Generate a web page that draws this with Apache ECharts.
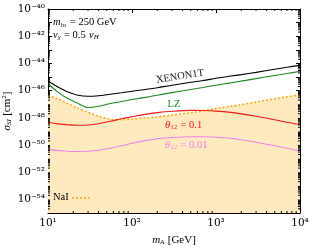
<!DOCTYPE html>
<html><head><meta charset="utf-8">
<script src="https://cdn.jsdelivr.net/npm/echarts@6/dist/echarts.min.js"></script>
<style>html,body{margin:0;padding:0;background:#fff}#c{width:316px;height:245px}</style>
</head><body><div id="c"></div>
<script>
const masses = [10,13,17,22,30,40,55,75,100,150,200,300,500,700,1000,1500,2000,3000,5000,7000,10000];
const xenon1t = [5.1e-46,1.9e-46,8.1e-47,4.8e-47,3.8e-47,4.2e-47,5.4e-47,6.9e-47,8.9e-47,1.26e-46,1.6e-46,2.5e-46,4.1e-46,5.5e-46,8.0e-46,1.17e-45,1.5e-45,2.2e-45,3.7e-45,5.2e-45,7.2e-45];
const lz = [3.2e-46,8.1e-47,2.7e-47,1.26e-47,5.7e-48,7.1e-48,1.12e-47,1.58e-47,2.2e-47,3.3e-47,4.6e-47,7.1e-47,1.2e-46,1.7e-46,2.5e-46,3.7e-46,5.0e-46,7.6e-46,1.29e-45,1.8e-45,2.6e-45];
const nai = [4.5e-47,2.5e-47,1.17e-47,5.5e-48,2.5e-48,1.29e-48,7.8e-49,7.1e-49,8.1e-49,1.0e-48,1.18e-48,1.58e-48,2.4e-48,3.2e-48,4.8e-48,7.1e-48,9.3e-48,1.45e-47,2.5e-47,3.5e-47,4.9e-47];
const theta01 = [4.7e-49,3.6e-49,3.1e-49,2.8e-49,2.95e-49,3.7e-49,5.5e-49,8.5e-49,1.18e-48,1.86e-48,2.4e-48,3.0e-48,3.5e-48,3.4e-48,3.1e-48,2.5e-48,1.95e-48,1.29e-48,7.1e-49,4.7e-49,3.1e-49];
const theta001 = [4.6e-51,3.9e-51,3.5e-51,3.3e-51,3.5e-51,4.1e-51,5.8e-51,8.7e-51,1.33e-50,2.2e-50,2.9e-50,3.6e-50,4.0e-50,4.0e-50,3.7e-50,3.1e-50,2.4e-50,1.58e-50,8.7e-51,5.8e-51,3.5e-51];
const xMin = 10, xMax = 1e4;
const yExpMin = -55, yExpMax = -40;   // y axis spans 1e-55 .. 1e-40 cm^2 (drawn on log10 scale)

const FF = 'DejaVu Serif';
const SF = 'Liberation Serif';
const pair = (a) => masses.map((m, i) => [m, Math.log10(a[i])]);

const xMinor = [], yMinor = [];
for (let e = 1; e < 4; e++) for (let k = 2; k <= 9; k++) xMinor.push(k * Math.pow(10, e));
for (let e = yExpMin; e < yExpMax; e++) for (let k = 2; k <= 9; k++) yMinor.push(e + Math.log10(k));

const SUP = {'-': '\u207b', '0': '\u2070', '1': '\u00b9', '2': '\u00b2', '3': '\u00b3', '4': '\u2074',
             '5': '\u2075', '6': '\u2076', '7': '\u2077', '8': '\u2078', '9': '\u2079'};
const supE = e => '10' + String(e).split('').map(c => SUP[c]).join('');
const xFmt = v => supE(Math.round(Math.log10(v)));
const yFmt = v => { const e = Math.round(v); return (e % 2 === 0) ? supE(e) : ''; };
const LAB = {fontFamily: FF, fontSize: 10.5, color: '#000'};

const chart = echarts.init(document.getElementById('c'), null, {renderer: 'canvas'});
const lineS = (name, data, color, w, extra) => Object.assign({
  name, type: 'line', data: pair(data), symbol: 'none', smooth: 0.3,
  lineStyle: {color, width: w}, itemStyle: {color}, z: 3, silent: true
}, extra || {});

chart.setOption({
  animation: false,
  grid: {left: 48, right: 16, top: 9, bottom: 32, containLabel: false, outerBoundsMode: 'none'},
  xAxis: [
    {type: 'log', min: xMin, max: xMax, logBase: 10,
     name: '{i|m}{sub|A} {n|[GeV]}', nameLocation: 'middle', nameGap: 19,
     nameTextStyle: {rich: {
       i: {fontFamily: SF, fontStyle: 'italic', fontSize: 11, color: '#000'},
       sub: {fontFamily: SF, fontStyle: 'italic', fontSize: 7, color: '#000', verticalAlign: 'bottom', padding: [5,0,0,0]},
       n: {fontFamily: SF, fontSize: 11, color: '#000'}}},
     axisLine: {lineStyle: {color: '#000', width: 1}},
     axisTick: {inside: true, length: 4, lineStyle: {color: '#000'}},
     axisLabel: Object.assign({formatter: xFmt, margin: 5}, LAB),
     splitLine: {show: false}},
    {type: 'log', min: xMin, max: xMax, position: 'top',
     axisLine: {lineStyle: {color: '#000', width: 1}},
     axisTick: {inside: true, length: 4, lineStyle: {color: '#000'}},
     axisLabel: {show: false}, splitLine: {show: false}}
  ],
  yAxis: [
    {type: 'value', min: yExpMin, max: yExpMax, interval: 1,
     name: '{g|\u03c3}{sub|SI} {n|[cm}{sup|2}{n|]}', nameLocation: 'middle', nameGap: 35, nameRotate: 90,
     nameMoveOverlap: false,
     nameTextStyle: {rich: {
       g: {fontFamily: SF, fontStyle: 'italic', fontSize: 11, color: '#000'},
       sub: {fontFamily: SF, fontStyle: 'italic', fontSize: 7, color: '#000', verticalAlign: 'bottom', padding: [5,0,0,0]},
       sup: {fontFamily: SF, fontSize: 7, color: '#000', verticalAlign: 'top'},
       n: {fontFamily: SF, fontSize: 11, color: '#000'}}},
     axisLine: {lineStyle: {color: '#000', width: 1}},
     axisTick: {inside: true, length: 4, lineStyle: {color: '#000'}},
     axisLabel: Object.assign({formatter: yFmt, margin: 3}, LAB),
     splitLine: {show: false}},
    {type: 'value', min: yExpMin, max: yExpMax, interval: 1, position: 'right',
     axisLine: {lineStyle: {color: '#000', width: 1}},
     axisTick: {inside: true, length: 4, lineStyle: {color: '#000'}},
     axisLabel: {show: false}, splitLine: {show: false}}
  ],
  series: [
    lineS('NaI', nai, '#ffa500', 1.4, {z: 2, lineStyle: {color: '#ffa500', width: 1.4, type: [2, 2]},
      areaStyle: {color: '#ffe9bf', opacity: 1, origin: 'start'}}),
    lineS('XENON1T', xenon1t, '#000000', 1.1),
    lineS('LZ', lz, '#1f8a1f', 1.1),
    lineS('t01', theta01, '#f01a1a', 1.1),
    lineS('t001', theta001, '#ee82ee', 1.1),
    {type: 'custom', silent: true, z: 5, clip: false,
     data: xMinor.map(v => [v, yExpMin]),
     renderItem: (p, api) => {
       const v = api.value(0);
       const b = api.coord([v, yExpMin]), t = api.coord([v, yExpMax]);
       return {type: 'group', children: [
         {type: 'line', shape: {x1: b[0], y1: b[1], x2: b[0], y2: b[1] - 2}, style: {stroke: '#000', lineWidth: 1}},
         {type: 'line', shape: {x1: t[0], y1: t[1], x2: t[0], y2: t[1] + 2}, style: {stroke: '#000', lineWidth: 1}}]};
     }},
    {type: 'custom', silent: true, z: 5, clip: false,
     data: yMinor.map(v => [xMin, v]),
     renderItem: (p, api) => {
       const v = api.value(1);
       const l = api.coord([xMin, v]), r = api.coord([xMax, v]);
       return {type: 'group', children: [
         {type: 'line', shape: {x1: l[0], y1: l[1], x2: l[0] + 2, y2: l[1]}, style: {stroke: '#000', lineWidth: 1}},
         {type: 'line', shape: {x1: r[0], y1: r[1], x2: r[0] - 2, y2: r[1]}, style: {stroke: '#000', lineWidth: 1}}]};
     }}
  ],
  graphic: [
    {type: 'text', z: 100, left: 53, top: 16, style: {
      text: '{i|m}{sub|h}{ss|2} {n|= 250 GeV}',
      rich: {i: {fontFamily: SF, fontStyle: 'italic', fontSize: 10.5},
             sub: {fontFamily: SF, fontStyle: 'italic', fontSize: 7, verticalAlign: 'bottom', padding: [5,0,0,0]},
             ss: {fontFamily: SF, fontSize: 5, verticalAlign: 'bottom', padding: [8,0,0,0]},
             n: {fontFamily: SF, fontSize: 10.5}}, fill: '#000'}},
    {type: 'text', z: 100, left: 53, top: 29, style: {
      text: '{i|v}{sub|\u03c7} {n|= 0.5} {i|v}{sub|H}',
      rich: {i: {fontFamily: SF, fontStyle: 'italic', fontSize: 10.5},
             sub: {fontFamily: SF, fontStyle: 'italic', fontSize: 7, verticalAlign: 'bottom', padding: [5,0,0,0]},
             n: {fontFamily: SF, fontSize: 10.5}}, fill: '#000'}},
    {type: 'text', z: 100, x: 180, y: 76.5, rotation: 0.15, style: {
      text: 'XENON1T', fontFamily: SF, fontSize: 10.5, fill: '#222', align: 'center', verticalAlign: 'middle'}},
    {type: 'text', z: 100, x: 174, y: 104, style: {
      text: 'LZ', fontFamily: SF, fontSize: 10.5, fill: '#1f8a1f', align: 'center', verticalAlign: 'middle'}},
    {type: 'text', z: 100, left: 165, top: 119, style: {
      text: '{i|\u03b8}{sub|12} {n|= 0.1}', fill: '#f01a1a',
      rich: {i: {fontFamily: SF, fontStyle: 'italic', fontSize: 10.5, fill: '#f01a1a'},
             sub: {fontFamily: SF, fontSize: 7, verticalAlign: 'bottom', padding: [5,0,0,0], fill: '#f01a1a'},
             n: {fontFamily: SF, fontSize: 10.5, fill: '#f01a1a'}}}},
    {type: 'text', z: 100, left: 165, top: 139, style: {
      text: '{i|\u03b8}{sub|12} {n|= 0.01}', fill: '#ee82ee',
      rich: {i: {fontFamily: SF, fontStyle: 'italic', fontSize: 10.5, fill: '#ee82ee'},
             sub: {fontFamily: SF, fontSize: 7, verticalAlign: 'bottom', padding: [5,0,0,0], fill: '#ee82ee'},
             n: {fontFamily: SF, fontSize: 10.5, fill: '#ee82ee'}}}},
    {type: 'text', z: 100, left: 53, top: 192, style: {
      text: 'NaI', fontFamily: SF, fontSize: 10.5, fill: '#000'}},
    {type: 'line', z: 100, shape: {x1: 72, y1: 198, x2: 91, y2: 198},
     style: {stroke: '#ffa500', lineWidth: 1.4, lineDash: [2, 2]}}
  ]
});
</script></body></html>
